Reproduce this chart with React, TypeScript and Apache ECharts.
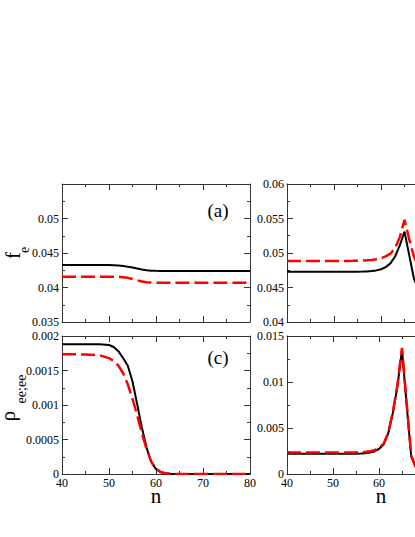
import React, { useEffect, useRef } from "react";
import * as echarts from "echarts";

const N = [40, 45, 48, 50, 51, 52, 53, 54, 55, 56, 57, 58, 59, 60, 61, 62, 63, 64, 65, 66, 67, 68, 69, 70, 72, 75, 80];

// panel (a): f_e
const aBlack = [0.04326, 0.04326, 0.04326, 0.04325, 0.04323, 0.04319, 0.04312, 0.04302, 0.04289, 0.04274, 0.04261, 0.04251, 0.04244, 0.04241, 0.0424, 0.04239, 0.04239, 0.04239, 0.04239, 0.04239, 0.04239, 0.04239, 0.04239, 0.04239, 0.04239, 0.04239, 0.04239];
const aRed = [0.04157, 0.04157, 0.04157, 0.04157, 0.04156, 0.04155, 0.0415, 0.0414, 0.04123, 0.04105, 0.04088, 0.04077, 0.04072, 0.0407, 0.0407, 0.0407, 0.0407, 0.0407, 0.0407, 0.0407, 0.0407, 0.0407, 0.0407, 0.0407, 0.0407, 0.0407, 0.0407];
// panel (b)
const bBlack = [0.04729, 0.04729, 0.04729, 0.04729, 0.04729, 0.04729, 0.0473, 0.0473, 0.0473, 0.04731, 0.04733, 0.04738, 0.04748, 0.04765, 0.04795, 0.0485, 0.0495, 0.0511, 0.0531, 0.0497, 0.0463, 0.0447, 0.0439, 0.0435, 0.0432, 0.0431, 0.043];
const bRed = [0.04884, 0.04884, 0.04884, 0.04884, 0.04884, 0.04884, 0.04885, 0.04886, 0.04888, 0.0489, 0.04894, 0.049, 0.0491, 0.04925, 0.0495, 0.0499, 0.0507, 0.0523, 0.0548, 0.052, 0.0495, 0.048, 0.0472, 0.0468, 0.0465, 0.0464, 0.0463];
// panel (c): rho_ee;ee
const cBlack = [0.00188, 0.00188, 0.00188, 0.00187, 0.00184, 0.00178, 0.00168, 0.00157, 0.00134, 0.00101, 0.00067, 0.00038, 0.00017, 0.00007, 0.000025, 0.00001, 0.000003, 0, 0, 0, 0, 0, 0, 0, 0, 0, 0];
const cRed = [0.001735, 0.001733, 0.00172, 0.00168, 0.00164, 0.00157, 0.00146, 0.0013, 0.00109, 0.00085, 0.00059, 0.00036, 0.00018, 0.00008, 0.00003, 0.00001, 0.000003, 0, 0, 0, 0, 0, 0, 0, 0, 0, 0];
// panel (d)
const dBlack = [0.0022, 0.0022, 0.0022, 0.0022, 0.0022, 0.0022, 0.0022, 0.0022, 0.0022, 0.00222, 0.00226, 0.00233, 0.00245, 0.00272, 0.0032, 0.0044, 0.0066, 0.0095, 0.0135, 0.0076, 0.0019, 0.0007, 0.0004, 0.0003, 0.0002, 0.0002, 0.0002];
const dRed = [0.00235, 0.00235, 0.00235, 0.00235, 0.00235, 0.00235, 0.00235, 0.00235, 0.00235, 0.00237, 0.0024, 0.00247, 0.00258, 0.00282, 0.0033, 0.0045, 0.0067, 0.0097, 0.0137, 0.0078, 0.002, 0.0008, 0.0005, 0.0004, 0.0003, 0.0003, 0.0003];

const FONT = "Liberation Serif, Times New Roman, serif";
const AXIS_COLOR = "#333";

const fmt = (v: number) => String(Number(v.toFixed(6)));

function xAxis(gridIndex: number, position: string, showLabel: boolean) {
  return {
    type: "value",
    gridIndex,
    position,
    min: 40,
    max: 80,
    interval: 10,
    axisLine: { show: true, onZero: false, lineStyle: { color: AXIS_COLOR, width: 1 } },
    axisTick: { show: true, inside: true, length: 6, lineStyle: { color: AXIS_COLOR } },
    minorTick: { show: true, splitNumber: 2, length: 3, lineStyle: { color: AXIS_COLOR } },
    splitLine: { show: false },
    axisLabel: { show: showLabel, margin: 3, color: "#000", fontSize: 12, fontFamily: FONT, formatter: fmt },
  };
}

function yAxis(gridIndex: number, position: string, showLabel: boolean, min: number, max: number, interval: number, hide?: number) {
  return {
    type: "value",
    gridIndex,
    position,
    min,
    max,
    interval,
    axisLine: { show: true, onZero: false, lineStyle: { color: AXIS_COLOR, width: 1 } },
    axisTick: { show: true, inside: true, length: 6, lineStyle: { color: AXIS_COLOR } },
    minorTick: { show: true, splitNumber: 2, length: 3, lineStyle: { color: AXIS_COLOR } },
    splitLine: { show: false },
    axisLabel: {
      show: showLabel,
      margin: 3,
      color: "#000",
      fontSize: 12,
      fontFamily: FONT,
      formatter: (v: number) => (hide !== undefined && Math.abs(v - hide) < 1e-9 ? "" : fmt(v)),
    },
  };
}

function pair(ys: number[]) {
  return N.map((n, i) => [n, ys[i]]);
}

function lines(axisIndex: number, black: number[], red: number[]) {
  return [
    {
      type: "line",
      xAxisIndex: axisIndex,
      yAxisIndex: axisIndex,
      data: pair(black),
      showSymbol: false,
      symbol: "none",
      lineStyle: { color: "#000", width: 2 },
      z: 2,
    },
    {
      type: "line",
      xAxisIndex: axisIndex,
      yAxisIndex: axisIndex,
      data: pair(red),
      showSymbol: false,
      symbol: "none",
      lineStyle: { color: "#ff0000", width: 2.5, type: [14, 5] },
      z: 3,
    },
  ];
}

export default function App() {
  const ref = useRef<HTMLDivElement>(null);
  useEffect(() => {
    if (!ref.current) return;
    const chart = echarts.init(ref.current, null, { renderer: "svg" });
    const grids = [
      { left: 62, top: 184, width: 188, height: 138 },
      { left: 287, top: 184, width: 188, height: 138 },
      { left: 62, top: 336, width: 188, height: 138 },
      { left: 287, top: 336, width: 188, height: 138 },
    ];
    const txt = { fontFamily: FONT, fill: "#000", textAlign: "center", textVerticalAlign: "middle" };
    chart.setOption({
      animation: false,
      backgroundColor: "#fff",
      grid: grids.map((g) => ({ ...g, containLabel: false })),
      xAxis: [
        xAxis(0, "bottom", false),
        xAxis(0, "top", false),
        xAxis(1, "bottom", false),
        xAxis(1, "top", false),
        xAxis(2, "bottom", true),
        xAxis(2, "top", false),
        xAxis(3, "bottom", true),
        xAxis(3, "top", false),
      ],
      yAxis: [
        yAxis(0, "left", true, 0.035, 0.055, 0.005, 0.055),
        yAxis(0, "right", false, 0.035, 0.055, 0.005),
        yAxis(1, "left", true, 0.04, 0.06, 0.005),
        yAxis(1, "right", false, 0.04, 0.06, 0.005),
        yAxis(2, "left", true, 0, 0.002, 0.0005),
        yAxis(2, "right", false, 0, 0.002, 0.0005),
        yAxis(3, "left", true, 0, 0.015, 0.005),
        yAxis(3, "right", false, 0, 0.015, 0.005),
      ],
      series: [
        ...lines(0, aBlack, aRed),
        ...lines(2, bBlack, bRed),
        ...lines(4, cBlack, cRed),
        ...lines(6, dBlack, dRed),
      ],
      graphic: [
        { type: "text", x: 218, y: 210, style: { ...txt, text: "(a)", fontSize: 19 } },
        { type: "text", x: 218, y: 357, style: { ...txt, text: "(c)", fontSize: 19 } },
        { type: "text", x: 156, y: 496, style: { ...txt, text: "n", fontSize: 21 } },
        { type: "text", x: 381, y: 496, style: { ...txt, text: "n", fontSize: 21 } },
        { type: "text", x: 12.5, y: 255.5, rotation: Math.PI / 2, style: { ...txt, text: "f", fontSize: 21 } },
        { type: "text", x: 24, y: 250, rotation: Math.PI / 2, style: { ...txt, text: "e", fontSize: 14 } },
        { type: "text", x: 8, y: 416, rotation: Math.PI / 2, style: { ...txt, text: "ρ", fontSize: 21 } },
        { type: "text", x: 21, y: 389, rotation: Math.PI / 2, style: { ...txt, text: "ee;ee", fontSize: 14 } },
      ],
    });
    return () => chart.dispose();
  }, []);
  return (
    <div style={{ position: "absolute", left: 0, top: 0, width: 415, height: 537, overflow: "hidden", background: "#fff" }}>
      <div ref={ref} style={{ width: 480, height: 537 }} />
    </div>
  );
}
